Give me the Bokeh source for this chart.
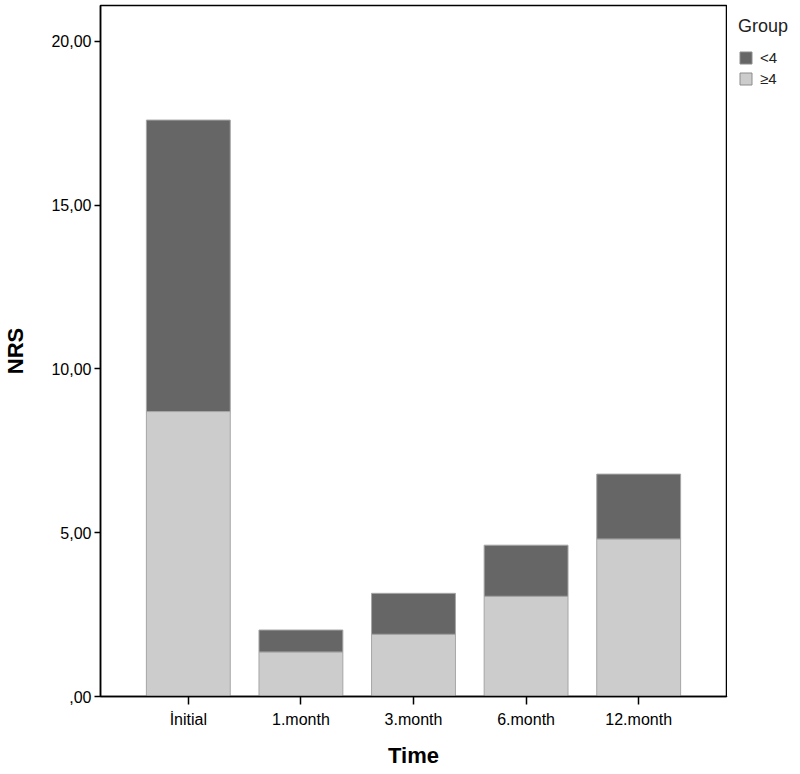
from bokeh.plotting import figure
from bokeh.layouts import row
from bokeh.models import Range1d, FactorRange, Legend, LegendItem, CustomJSTickFormatter, FixedTicker
from bokeh.embed import file_html
from bokeh.resources import INLINE

categories = ["İnitial", "1.month", "3.month", "6.month", "12.month"]
ge4 = [8.70, 1.36, 1.90, 3.06, 4.81]
lt4 = [8.90, 0.67, 1.25, 1.56, 1.98]
groups = ["ge4", "lt4"]
group_labels = ["<4", "≥4"]
colors = {"ge4": "#cccccc", "lt4": "#666666"}
y_ticks = [0, 5, 10, 15, 20]

FONT = "Liberation Sans"
H = 774
W_MAIN, W_LEG = 727, 73
BL, BR, BT, BB = 98, 1, 4, 78
FW, FH = W_MAIN - BL - BR, H - BT - BB

p = figure(x_range=FactorRange(*categories, range_padding=0.28, range_padding_units="absolute"),
           y_range=Range1d(0, FH / 32.8),
           width=W_MAIN, height=H, output_backend="svg", toolbar_location=None,
           min_border_left=BL, min_border_right=BR, min_border_top=BT, min_border_bottom=BB)

src = dict(cat=categories, ge4=ge4, lt4=lt4)
rs = p.vbar_stack(groups, x="cat", width=0.745, source=src,
                  fill_color=[colors[g] for g in groups],
                  line_color="#a6a6a6", line_width=1)

p.xgrid.visible = False
p.ygrid.visible = False
p.outline_line_color = "black"
p.outline_line_width = 1.5

p.yaxis.ticker = FixedTicker(ticks=y_ticks)
p.yaxis.formatter = CustomJSTickFormatter(code="""
if (tick == 0) { return ",00"; }
return tick.toFixed(2).replace(".", ",");
""")
p.yaxis.minor_tick_line_color = None
p.yaxis.major_tick_out = 6
p.yaxis.major_tick_in = 0
p.yaxis.major_label_standoff = 3
p.yaxis.axis_label = "NRS"
p.yaxis.axis_label_standoff = 20
p.xaxis.axis_label = "Time"
p.xaxis.major_tick_out = 8
p.xaxis.major_tick_in = 0
p.xaxis.major_label_standoff = 6
p.xaxis.axis_label_standoff = 12

for ax in (p.xaxis, p.yaxis):
    ax.axis_line_color = "black"
    ax.axis_line_width = 1.5
    ax.major_tick_line_color = "black"
    ax.major_tick_line_width = 1.5
    ax.major_label_text_font = FONT
    ax.major_label_text_font_size = "16px"
    ax.major_label_text_color = "black"
    ax.axis_label_text_font = FONT
    ax.axis_label_text_font_size = "22px"
    ax.axis_label_text_font_style = "bold"
    ax.axis_label_text_color = "black"

# legend panel (separate canvas to the right of the plot frame)
lg = figure(width=W_LEG, height=H, output_backend="svg", toolbar_location=None,
            x_range=Range1d(0, 1), y_range=Range1d(0, 1),
            x_axis_type=None, y_axis_type=None,
            min_border_left=0, min_border_right=0, min_border_top=5, min_border_bottom=0)
lg.xgrid.visible = False
lg.ygrid.visible = False
lg.outline_line_color = None
# legend proxies: kept outside the visible range of this legend-only canvas
proxy = {}
for g in ["lt4", "ge4"]:
    proxy[g] = lg.vbar(x=[-5], top=[-5], bottom=[-6], width=1,
                       fill_color=colors[g], line_color="#8c8c8c", line_width=1)

legend = Legend(items=[LegendItem(label=group_labels[0], renderers=[proxy["lt4"]]),
                       LegendItem(label=group_labels[1], renderers=[proxy["ge4"]])],
                location="top_left", title="Group",
                margin=11, padding=0, border_line_color=None, background_fill_alpha=0,
                title_text_font=FONT, title_text_font_size="18px", title_text_font_style="normal",
                title_text_color="#222222", title_standoff=12,
                label_text_font=FONT, label_text_font_size="15px", label_text_color="#222222",
                glyph_width=15, glyph_height=15, label_height=15, spacing=4, label_standoff=7)
lg.add_layout(legend, "center")

layout = row(p, lg, spacing=0)
open("out.html", "w").write(file_html(layout, INLINE))
